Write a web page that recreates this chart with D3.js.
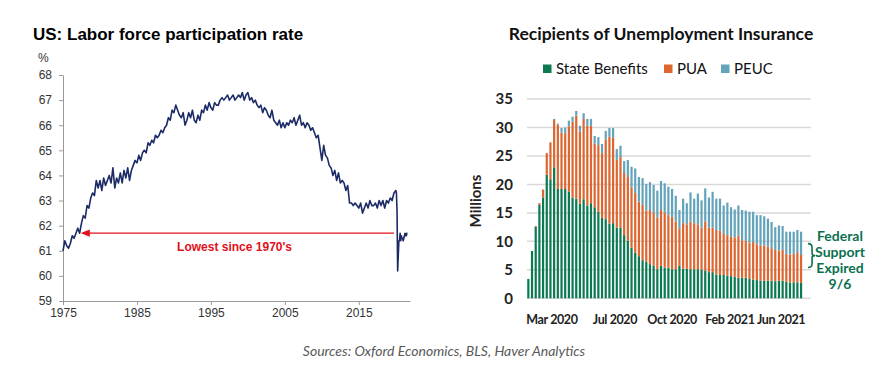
<!DOCTYPE html>
<html>
<head>
<meta charset="utf-8">
<script src="https://cdn.jsdelivr.net/npm/d3@7"></script>
<style>
  body { margin: 0; background: white; }
  svg { display: block; }
  .lfTick text { font-family: "Liberation Sans", Arial, sans-serif; font-size: 12px; fill: #333; }
  .lfTick line, .lfTick path { stroke: #9a9a9a; }
  .uiTick text { font-family: Lato, sans-serif; font-size: 15px; font-weight: 700; fill: #222; }
</style>
</head>
<body>
<div id="chart"></div>
<script>
// ---- left: labor force participation rate, quarterly 1975-2019 then monthly 2020-2021
var lfprStartYear = 1975;
var lfprQuarterly = [
  61.0, 61.4, 61.2, 61.1,   // 1975
  61.3, 61.6, 61.5, 61.7,
  61.9, 61.7, 62.1, 62.4,
  62.3, 62.8, 62.7, 63.1,
  63.3, 63.2, 63.8, 63.5,
  63.8, 63.4, 63.9, 63.6,   // 1980
  63.8, 64.0, 63.7, 64.3,
  63.5, 63.9, 63.7, 64.1,
  63.7, 64.2, 63.9, 64.3,
  63.8, 64.2, 64.4, 64.6,
  64.5, 64.8, 64.6, 64.9,   // 1985
  65.0, 64.9, 65.3, 65.2,
  65.4, 65.3, 65.6, 65.5,
  65.6, 65.8, 65.7, 65.9,
  66.0, 66.3, 66.2, 66.6,
  66.5, 66.8, 66.6, 66.4,   // 1990
  66.3, 66.5, 66.0, 66.2,
  66.5, 66.3, 66.6, 66.2,
  66.1, 66.4, 66.2, 66.6,
  66.5, 66.8, 66.6, 66.9,
  66.7, 66.6, 66.9, 66.8,   // 1995
  66.8, 67.0, 67.1, 67.0,
  67.1, 67.2, 67.0, 67.1,
  67.2, 67.0, 67.1, 67.2,
  67.1, 67.3, 67.0, 67.2,
  67.3, 67.0, 67.1, 66.9,   // 2000
  67.0, 66.8, 66.7, 66.8,
  66.5, 66.7, 66.6, 66.4,
  66.3, 66.6, 66.2, 66.1,
  66.0, 66.2, 65.9, 66.1,
  65.9, 66.1, 66.0, 66.2,   // 2005
  66.1, 66.3, 66.0, 66.2,
  66.4, 66.0, 66.1, 65.9,
  66.1, 66.0, 65.8, 65.9,
  65.7, 65.5, 65.6, 65.1,
  64.6, 65.2, 64.8, 64.7,   // 2010
  64.4, 64.3, 64.0, 64.2,
  63.8, 64.1, 63.7, 63.8,
  63.7, 63.4, 63.6, 62.9,
  62.9, 62.8, 62.9, 62.8,
  62.7, 62.9, 62.5, 62.7,   // 2015
  62.9, 62.7, 63.0, 62.8,
  62.8, 62.9, 62.7, 63.0,
  62.8, 63.0, 62.7, 63.0,
  62.9, 63.1, 63.0, 63.3
];
// Jan 2020 - Aug 2021
var lfprMonthly = [63.4, 63.3, 62.6, 60.2, 60.8, 61.4, 61.4, 61.7, 61.4, 61.6, 61.5, 61.5,
                   61.4, 61.5, 61.6, 61.7, 61.6, 61.6, 61.7, 61.7];
var lfprYearTicks = [1975, 1985, 1995, 2005, 2015];

// ---- right: recipients of unemployment insurance, weekly, millions
var stateBenefits = [3.4, 8.3, 12.6, 16.4, 17.7, 21.7, 20.9, 23.0, 19.2, 19.2,
  19.2, 18.7, 17.7, 17.5, 16.6, 17.4, 16.3, 16.7, 16.0, 15.2,
  14.2, 13.9, 13.1, 13.2, 12.4, 12.4, 11.1, 10.1, 8.9, 8.0,
  7.4, 6.7, 6.4, 6.0, 5.7, 5.1, 5.7, 5.4, 5.4, 5.1,
  5.1, 5.7, 5.2, 5.2, 5.1, 5.1, 5.1, 5.0, 4.9, 4.6,
  4.6, 4.2, 4.1, 4.1, 4.0, 3.9, 3.8, 3.6, 3.6, 3.6,
  3.4, 3.3, 3.2, 3.1, 3.1, 3.1, 3.1, 3.0, 3.1, 3.1,
  2.9, 2.8, 2.8, 2.8, 2.7];
var pua = [0, 0, 0.1, 0.3, 1.4, 3.8, 6.5, 8.3, 11.3, 9.9,
  9.8, 11.5, 13.3, 14.6, 12.7, 14.1, 14.0, 13.6, 11.2, 11.7,
  11.3, 14.0, 15.3, 15.0, 11.9, 12.4, 10.9, 11.2, 10.6, 10.5,
  9.6, 9.7, 9.0, 9.5, 9.3, 9.1, 9.8, 9.7, 9.2, 9.2,
  8.4, 6.6, 8.0, 7.8, 8.4, 8.1, 7.9, 7.4, 8.6, 7.8,
  7.8, 7.8, 7.8, 7.2, 7.1, 6.9, 6.9, 7.4, 6.6, 6.5,
  6.4, 6.6, 6.3, 6.2, 6.2, 6.0, 5.7, 5.5, 5.3, 5.4,
  4.9, 4.9, 5.0, 5.3, 4.9];
var peuc = [0, 0, 0, 0, 0, 0, 0, 0.2, 0.2, 0.8,
  1.0, 1.0, 0.9, 0.8, 1.0, 1.0, 1.2, 1.2, 1.3, 1.4,
  1.6, 1.5, 1.5, 1.7, 1.9, 2.0, 2.1, 3.0, 3.6, 4.3,
  4.3, 4.7, 4.7, 4.9, 4.9, 4.7, 5.1, 5.1, 5.0, 4.9,
  4.5, 3.2, 4.3, 3.7, 5.1, 4.3, 5.4, 4.8, 5.8, 5.3,
  6.3, 5.5, 5.6, 5.0, 5.7, 5.2, 4.9, 5.3, 5.3, 5.3,
  5.4, 5.3, 5.1, 5.3, 5.1, 4.9, 4.6, 4.0, 4.4, 4.2,
  3.9, 4.0, 3.9, 3.9, 4.1];
var seriesNames = ["State Benefits", "PUA", "PEUC"];
var seriesColors = ["#0b7a52", "#dd6630", "#64a4bb"];
var weekLabels = ["Mar 2020", "Jul 2020", "Oct 2020", "Feb 2021", "Jun 2021"];
var weekLabelAt = [6.4, 23.5, 39.0, 54.7, 68.6];   // position in weeks from first bar

var svg = d3.select("#chart").append("svg")
  .attr("width", 896)
  .attr("height", 384)
  .style("background", "white");

// ================= left chart
var lf = [];
lfprQuarterly.forEach(function (v, i) {
  lf.push({ t: lfprStartYear + i / 4, v: v });
});
lfprMonthly.forEach(function (v, i) {
  lf.push({ t: 2020 + i / 12, v: v });
});

var xL = d3.scaleLinear().domain([1975, 2021.92]).range([63, 410]);
var yL = d3.scaleLinear().domain([59, 68]).range([301, 75]);

svg.append("text")
  .attr("x", 33).attr("y", 40)
  .style("font-family", "Liberation Sans, Arial, sans-serif")
  .style("font-size", "17px").style("font-weight", "bold")
  .text("US: Labor force participation rate");

svg.append("text")
  .attr("x", 38).attr("y", 62)
  .style("font-family", "Liberation Sans, Arial, sans-serif")
  .style("font-size", "12px").style("fill", "#333")
  .text("%");

svg.append("g")
  .attr("class", "lfTick")
  .attr("transform", "translate(63,0)")
  .call(d3.axisLeft(yL).ticks(9).tickSize(4).tickPadding(7).tickSizeOuter(0));

svg.append("g")
  .attr("class", "lfTick")
  .attr("transform", "translate(0,301)")
  .call(d3.axisBottom(xL).tickValues(lfprYearTicks).tickFormat(d3.format("d"))
    .tickSize(4).tickPadding(3).tickSizeOuter(0));

svg.selectAll(".lfTick").attr("font-family", null).attr("font-size", null);

svg.append("path")
  .datum(lf)
  .attr("fill", "none")
  .attr("stroke", "#1c2b66")
  .attr("stroke-width", 1.6)
  .attr("stroke-linejoin", "round")
  .attr("d", d3.line()
    .x(function (d) { return xL(d.t) })
    .y(function (d) { return yL(d.v) })
  );

// red arrow back to the late 1970s
svg.append("defs").append("marker")
  .attr("id", "redHead")
  .attr("viewBox", "0 0 10 10")
  .attr("refX", 1).attr("refY", 5)
  .attr("markerWidth", 7).attr("markerHeight", 7)
  .attr("orient", "auto-start-reverse")
  .append("path").attr("d", "M0,1 L10,5 L0,9 z").attr("fill", "#e3101b");

svg.append("line")
  .attr("x1", xL(2019.75)).attr("x2", xL(1978.5))
  .attr("y1", yL(61.7)).attr("y2", yL(61.7))
  .attr("stroke", "#e3101b").attr("stroke-width", 1.3)
  .attr("marker-end", "url(#redHead)");

svg.append("text")
  .attr("x", xL(1998.2)).attr("y", yL(61.7) + 18)
  .attr("text-anchor", "middle")
  .style("font-family", "Liberation Sans, Arial, sans-serif")
  .style("font-size", "12px").style("font-weight", "bold")
  .style("fill", "#e3101b")
  .text("Lowest since 1970's");

// ================= right chart
var nWeeks = stateBenefits.length;
var weeks = d3.range(nWeeks);
var table = weeks.map(function (i) {
  return { week: i, state: stateBenefits[i], pua: pua[i], peuc: peuc[i] };
});
var stacked = d3.stack().keys(["state", "pua", "peuc"])(table);

var xR = d3.scaleBand().domain(weeks).range([526.5, 802.9]).paddingInner(0.4).paddingOuter(0.2);
var xRpos = d3.scaleLinear().domain([0, nWeeks - 1])
  .range([xR(0) + xR.bandwidth() / 2, xR(nWeeks - 1) + xR.bandwidth() / 2]);
var yR = d3.scaleLinear().domain([0, 35]).range([298.3, 99]);

svg.append("text")
  .attr("x", 661).attr("y", 40)
  .attr("text-anchor", "middle")
  .style("font-family", "Lato, sans-serif")
  .style("font-size", "17.5px").style("font-weight", "bold")
  .style("fill", "#111")
  .text("Recipients of Unemployment Insurance");

// legend
var legendX = [543, 664, 721];
var legend = svg.append("g");
seriesNames.forEach(function (name, i) {
  legend.append("rect")
    .attr("x", legendX[i]).attr("y", 64.5)
    .attr("width", 8.5).attr("height", 8.5)
    .attr("fill", seriesColors[i]);
  legend.append("text")
    .attr("x", legendX[i] + 13).attr("y", 73.5)
    .style("font-family", "Lato, sans-serif")
    .style("font-size", "15px")
    .style("fill", "#111")
    .text(name);
});

// grid
svg.append("g")
  .selectAll("line")
  .data(yR.ticks(7))
  .enter().append("line")
  .attr("x1", 527).attr("x2", 811)
  .attr("y1", d => yR(d)).attr("y2", d => yR(d))
  .attr("stroke", "#d9d9d9").attr("stroke-width", 1.5);

svg.append("g")
  .attr("class", "uiTick")
  .attr("transform", "translate(513,0)")
  .call(d3.axisLeft(yR).ticks(7).tickSize(0).tickPadding(0))
  .call(g => g.select(".domain").remove())
  .attr("font-family", null).attr("font-size", null);

svg.append("text")
  .attr("transform", "translate(481,201) rotate(-90)")
  .attr("text-anchor", "middle")
  .style("font-family", "Lato, sans-serif")
  .style("font-size", "15px").style("font-weight", "bold")
  .style("fill", "#222")
  .text("Millions");

svg.append("g")
  .selectAll("g")
  .data(stacked)
  .enter().append("g")
  .attr("fill", (d, i) => seriesColors[i])
  .selectAll("rect")
  .data(d => d)
  .enter().append("rect")
  .attr("x", d => xR(d.data.week))
  .attr("width", xR.bandwidth())
  .attr("y", d => yR(d[1]))
  .attr("height", d => yR(d[0]) - yR(d[1]));

svg.append("g")
  .selectAll("text")
  .data(weekLabels)
  .enter().append("text")
  .attr("x", (d, i) => xRpos(weekLabelAt[i]))
  .attr("y", 324)
  .attr("text-anchor", "middle")
  .style("font-family", "Lato, sans-serif")
  .style("font-size", "12.5px").style("font-weight", "bold")
  .style("letter-spacing", "-0.4px")
  .style("fill", "#222")
  .text(d => d);

// brace + note
var braceX = xRpos(nWeeks - 1) + 7;
var bTop = yR(9.6), bBot = yR(5.4), bMid = (bTop + bBot) / 2;
svg.append("path")
  .attr("d", "M" + braceX + "," + bTop +
    " q4,0 4,4 v" + (bMid - bTop - 6) + " q0,2 3,2 q-3,0 -3,2 v" + (bBot - bMid - 6) + " q0,4 -4,4")
  .attr("fill", "none")
  .attr("stroke", "#0b7050")
  .attr("stroke-width", 1.6);

var note = ["Federal", "Support", "Expired", "9/6"];
svg.append("g")
  .selectAll("text")
  .data(note)
  .enter().append("text")
  .attr("x", 840)
  .attr("y", (d, i) => 241 + i * 16)
  .attr("text-anchor", "middle")
  .style("font-family", "Lato, sans-serif")
  .style("font-size", "14px").style("font-weight", "bold")
  .style("fill", "#0b7050")
  .text(d => d);

// source
svg.append("text")
  .attr("x", 444).attr("y", 356)
  .attr("text-anchor", "middle")
  .style("font-family", "Lato, sans-serif")
  .style("font-size", "14px").style("font-style", "italic")
  .style("fill", "#595959")
  .text("Sources: Oxford Economics, BLS, Haver Analytics");
</script>
</body>
</html>
